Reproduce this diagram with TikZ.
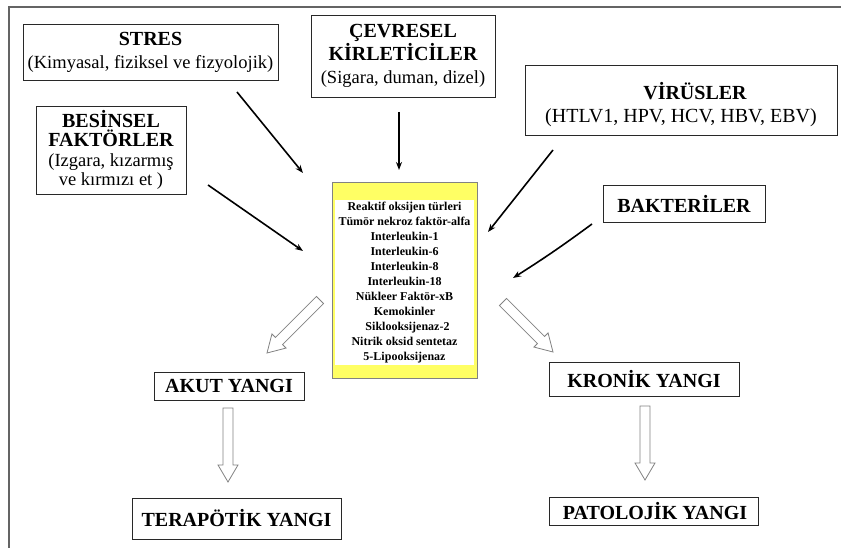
\documentclass[tikz,border=0pt]{standalone}
\usepackage{fontspec}
\setmainfont{Liberation Serif}
\usepackage{tikz}
\usetikzlibrary{calc,arrows.meta}
\definecolor{kutugri}{RGB}{40, 40, 40}
\definecolor{cercevegri}{RGB}{100, 100, 100}
\definecolor{okgri}{RGB}{130, 130, 130}
\definecolor{sitosari}{RGB}{255, 255, 100}

\newcommand{\baslik}{\bfseries\fontsize{20}{23}\selectfont}
\newcommand{\acikla}[1]{{\mdseries\fontsize{18.5}{22}\selectfont #1}}

\tikzset{
  kutu/.style={draw=kutugri, line width=0.9pt, align=center, inner sep=1pt, font=\baslik},
  etken/.style={line width=1.6pt, -{Stealth[length=8pt,width=6pt]}},
  bosok/.style={draw=okgri, line width=0.8pt, fill=white,
    to path={let \p1=(\tikztostart), \p2=(\tikztotarget),
      \n1={atan2(\y2-\y1,\x2-\x1)} in
      ($(\p1)+(\n1-90:5pt)$) -- ($(\p2)+(\n1:-17pt)+(\n1-90:5pt)$)
      -- ($(\p2)+(\n1:-17pt)+(\n1-90:10pt)$) -- (\p2)
      -- ($(\p2)+(\n1:-17pt)+(\n1+90:10pt)$)
      -- ($(\p2)+(\n1:-17pt)+(\n1+90:5pt)$)
      -- ($(\p1)+(\n1+90:5pt)$) -- cycle}}
}

\begin{document}
\begin{tikzpicture}[x=1pt,y=-1pt]
\useasboundingbox (0,0) rectangle (841,548);
% dis cerceve (yalniz ust ve sol kenar gorunuyor)
\draw[cercevegri, line width=1.5pt] (9,548) -- (9,7) -- (841,7);

% etkenler
\node[kutu, minimum width=255pt, minimum height=56pt] (stres) at (150.5,52)
  {STRES\\ \acikla{(Kimyasal, fiziksel ve fizyolojik)}};
\node[kutu, minimum width=150pt, minimum height=88pt, font=\baslik\fontsize{20}{19.5}\selectfont] (besin) at (111,150)
  {BESİNSEL\\ FAKTÖRLER\\ \acikla{(Izgara, kızarmış}\\ \acikla{ve kırmızı et )}};
\node[kutu, minimum width=184pt, minimum height=82pt] (cevre) at (403,56)
  {ÇEVRESEL\\ KİRLETİCİLER\\ \acikla{(Sigara, duman, dizel)}};
\node[kutu, minimum width=312pt, minimum height=70pt] (virus) at (681,100)
  {\rule{0pt}{26pt}\hspace*{28pt}VİRÜSLER\\ {\mdseries\fontsize{20}{22}\selectfont (HTLV1, HPV, HCV, HBV, EBV)}};
\node[kutu, minimum width=162pt, minimum height=37pt] (bakteri) at (684,203.5) {BAKTERİLER};

% sitokin kutusu
\node[draw=okgri, line width=0.6pt, fill=sitosari, minimum width=145pt, minimum height=196pt] (sito) at (404.5,280) {};
\node[fill=white, minimum width=139pt, minimum height=165pt, align=center, inner sep=0pt,
  font=\bfseries\fontsize{12}{15}\selectfont] (sitolist) at (404.5,282.5)
  {Reaktif oksijen türleri\\ Tümör nekroz faktör-alfa\\ Interleukin-1\\ Interleukin-6\\
   Interleukin-8\\ Interleukin-18\\ Nükleer Faktör-xB\\ Kemokinler\\
   \hspace*{6pt}Siklooksijenaz-2\\ Nitrik oksid sentetaz\\ 5-Lipooksijenaz};

% sonuclar
\node[kutu, minimum width=150pt, minimum height=28pt] (akut) at (229,386) {AKUT YANGI};
\node[kutu, minimum width=209pt, minimum height=41pt] (terapi) at (236.5,518.5) {TERAPÖTİK YANGI};
\node[kutu, minimum width=190pt, minimum height=34pt] (kronik) at (644,379) {KRONİK YANGI};
\node[kutu, minimum width=209pt, minimum height=28pt] (patoloji) at (653.5,511) {\hspace*{3pt}PATOLOJİK YANGI};

% ok uclari
\coordinate (stresA) at (237,92);   \coordinate (stresB) at (303,173);
\coordinate (besinA) at (208,185);  \coordinate (besinB) at (303,251);
\coordinate (cevreA) at (399,112);  \coordinate (cevreB) at (399,170);
\coordinate (virusA) at (553,150);  \coordinate (virusB) at (488,232);
\coordinate (bakteriA) at (592,224); \coordinate (bakteriB) at (513,278);
\coordinate (akutA) at (320,300);   \coordinate (akutB) at (267,353);
\coordinate (kronikA) at (503,302); \coordinate (kronikB) at (553,352);
\coordinate (terapiA) at (228,408); \coordinate (terapiB) at (228,482);
\coordinate (patolojiA) at (645,406); \coordinate (patolojiB) at (645,480);

\draw[etken] (stresA) -- (stresB);
\draw[etken] (besinA) -- (besinB);
\draw[etken] (cevreA) -- (cevreB);
\draw[etken] (virusA) -- (virusB);
\draw[etken] (bakteriA) to[bend left=2] (bakteriB);

\draw[bosok] (akutA) to (akutB);
\draw[bosok] (kronikA) to (kronikB);
\draw[bosok] (terapiA) to (terapiB);
\draw[bosok] (patolojiA) to (patolojiB);
\end{tikzpicture}
\end{document}
